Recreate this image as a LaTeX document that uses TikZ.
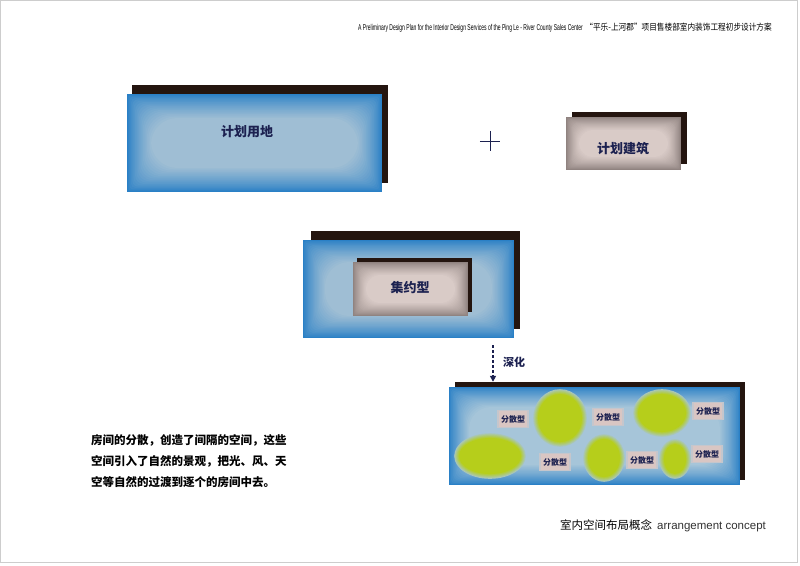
\documentclass[tikz,border=0pt]{standalone}
\usepackage{fontspec}
\usepackage{graphicx}
\setmainfont{Liberation Sans}
\newfontfamily\cjk{Noto Sans CJK SC}
\usetikzlibrary{arrows.meta}
\definecolor{shadowc}{HTML}{24150F}
\definecolor{blueedge}{HTML}{2A80C6}
\definecolor{bluecenter}{HTML}{9FBED4}
\definecolor{bluecenterb}{HTML}{A6C5D9}
\definecolor{beigeedge}{HTML}{8E817E}
\definecolor{beigecenter}{HTML}{D9CBC7}
\definecolor{navy}{HTML}{1C2150}
\definecolor{blobgreen}{HTML}{B6CE1B}
\definecolor{pinkbox}{HTML}{D9C6C3}
\definecolor{framegray}{HTML}{CDCDCD}
\definecolor{textgray}{HTML}{333333}

% #1 x1, #2 y1, #3 x2, #4 y2, #5 edge colour, #6 centre colour, #7 glow width
\newcommand\glowrect[7]{%
  \fill[#5] (#1,#2) rectangle (#3,#4);
  \foreach \i in {1,...,18}{%
    \pgfmathsetmacro\ins{#7*\i/18}%
    \pgfmathtruncatemacro\mv{100*(\i/18)^0.8}%
    \pgfmathsetmacro\rc{\ins*1.1}%
    \fill[#6!\mv!#5, rounded corners=\rc pt] (#1+\ins,#2+\ins) rectangle (#3-\ins,#4-\ins);
  }}
% #1 x, #2 y, #3 rx, #4 ry
\newcommand\greenblob[4]{%
  \foreach \k in {6,5,...,0}{%
    \pgfmathtruncatemacro\mv{100-\k*14}%
    \fill[blobgreen!\mv!bluecenterb] (#1,#2) ellipse [x radius=#3+\k*0.8, y radius=#4+\k*0.8];
  }}

\tikzset{
  shadowbox/.style={fill=shadowc},
  boxlabel/.style={font=\cjk\bfseries\fontsize{13}{15}\selectfont, text=navy, inner sep=1pt},
  fslabel/.style={font=\cjk\bfseries\fontsize{8}{9}\selectfont, text=navy, fill=pinkbox,
    minimum width=30pt, minimum height=17pt, inner sep=0pt, draw=pinkbox!60!bluecenterb, line width=1.5pt},
  paraline/.style={font=\cjk\bfseries\fontsize{11.5}{13}\selectfont, text=black, anchor=base west, inner sep=0pt},
  flowarrow/.style={navy, line width=1.6pt, dash pattern=on 3pt off 2pt, -{Triangle[length=6pt,width=6pt]}},
}

\begin{document}
\begin{tikzpicture}[x=1pt,y=-1pt]
\useasboundingbox (0,0) rectangle (800,565);
\fill[white] (0,0) rectangle (800,565);
\draw[framegray, line width=1pt] (0.5,0.5) rectangle (797,562);

% header
\node[anchor=base west, inner sep=0pt] (hdren) at (358,30)
  {\fontsize{8.5}{10}\selectfont\scalebox{0.59}[1]{A Preliminary Design Plan for the Interior Design Services of the Ping Le - River County Sales Center}};
\node[anchor=base east, inner sep=0pt] (hdrcn) at (772,30)
  {\cjk\fontsize{8.8}{10}\selectfont\scalebox{0.87}[1]{“平乐-上河郡”项目售楼部室内装饰工程初步设计方案}};

% top-left box
\fill[shadowbox] (132,85) rectangle (388,183);
\glowrect{127}{94}{382}{192}{blueedge}{bluecenter}{24}
\node[boxlabel] (land) at (247,132) {计划用地};

% plus
\node[minimum size=20pt, inner sep=0pt] (plus) at (490,141) {};
\draw[navy, line width=1pt] (plus.west) -- (plus.east) (plus.north) -- (plus.south);

% top-right box
\fill[shadowbox] (572,112) rectangle (687,164);
\glowrect{566}{117}{681}{170}{beigeedge}{beigecenter}{13}
\node[boxlabel] (build) at (623,149) {计划建筑};

% middle box
\fill[shadowbox] (311,231) rectangle (520,329);
\glowrect{303}{240}{514}{338}{blueedge}{bluecenter}{22}
\fill[shadowbox] (357,258) rectangle (472,312);
\glowrect{353}{262}{468}{316}{beigeedge}{beigecenter}{13}
\node[boxlabel] (compact) at (410,288) {集约型};

% bottom box
\fill[shadowbox] (455,382) rectangle (745,480);
\glowrect{449}{387}{740}{485}{blueedge}{bluecenterb}{20}
\node[minimum width=291pt, minimum height=103pt, inner sep=0pt] (scatter) at (597,433.5) {};

\greenblob{560}{418}{22}{24}
\greenblob{662}{413}{24}{19}
\greenblob{490}{456}{31}{18}
\greenblob{604}{458}{16}{19}
\greenblob{675}{459}{11}{15}

\node[fslabel] (fs1) at (513,419) {分散型};
\node[fslabel] (fs2) at (608,417) {分散型};
\node[fslabel] (fs3) at (708,411) {分散型};
\node[fslabel] (fs4) at (555,462) {分散型};
\node[fslabel] (fs5) at (642,460) {分散型};
\node[fslabel] (fs6) at (707,454) {分散型};

% arrow
\coordinate (arrtop) at (493,345);
\draw[flowarrow] (arrtop) -- (arrtop |- scatter.north);
\node[font=\cjk\bfseries\fontsize{11}{13}\selectfont, text=navy, inner sep=0pt] (deepen) at (514,362) {深化};

% paragraph
\node[paraline] (p1) at (91,444.5) {房间的分散，创造了间隔的空间，这些};
\node[paraline] (p2) at (91,465.5) {空间引入了自然的景观，把光、风、天};
\node[paraline] (p3) at (91,486.5) {空等自然的过渡到逐个的房间中去。};

% footer
\node[anchor=base west, inner sep=0pt] (foot) at (560,529.5)
  {\cjk\fontsize{11.5}{13}\selectfont 室内空间布局概念\hspace{5pt}{\fontspec{Liberation Sans}\color{textgray}\fontsize{11.5}{13}\selectfont arrangement concept}};
\end{tikzpicture}
\end{document}
